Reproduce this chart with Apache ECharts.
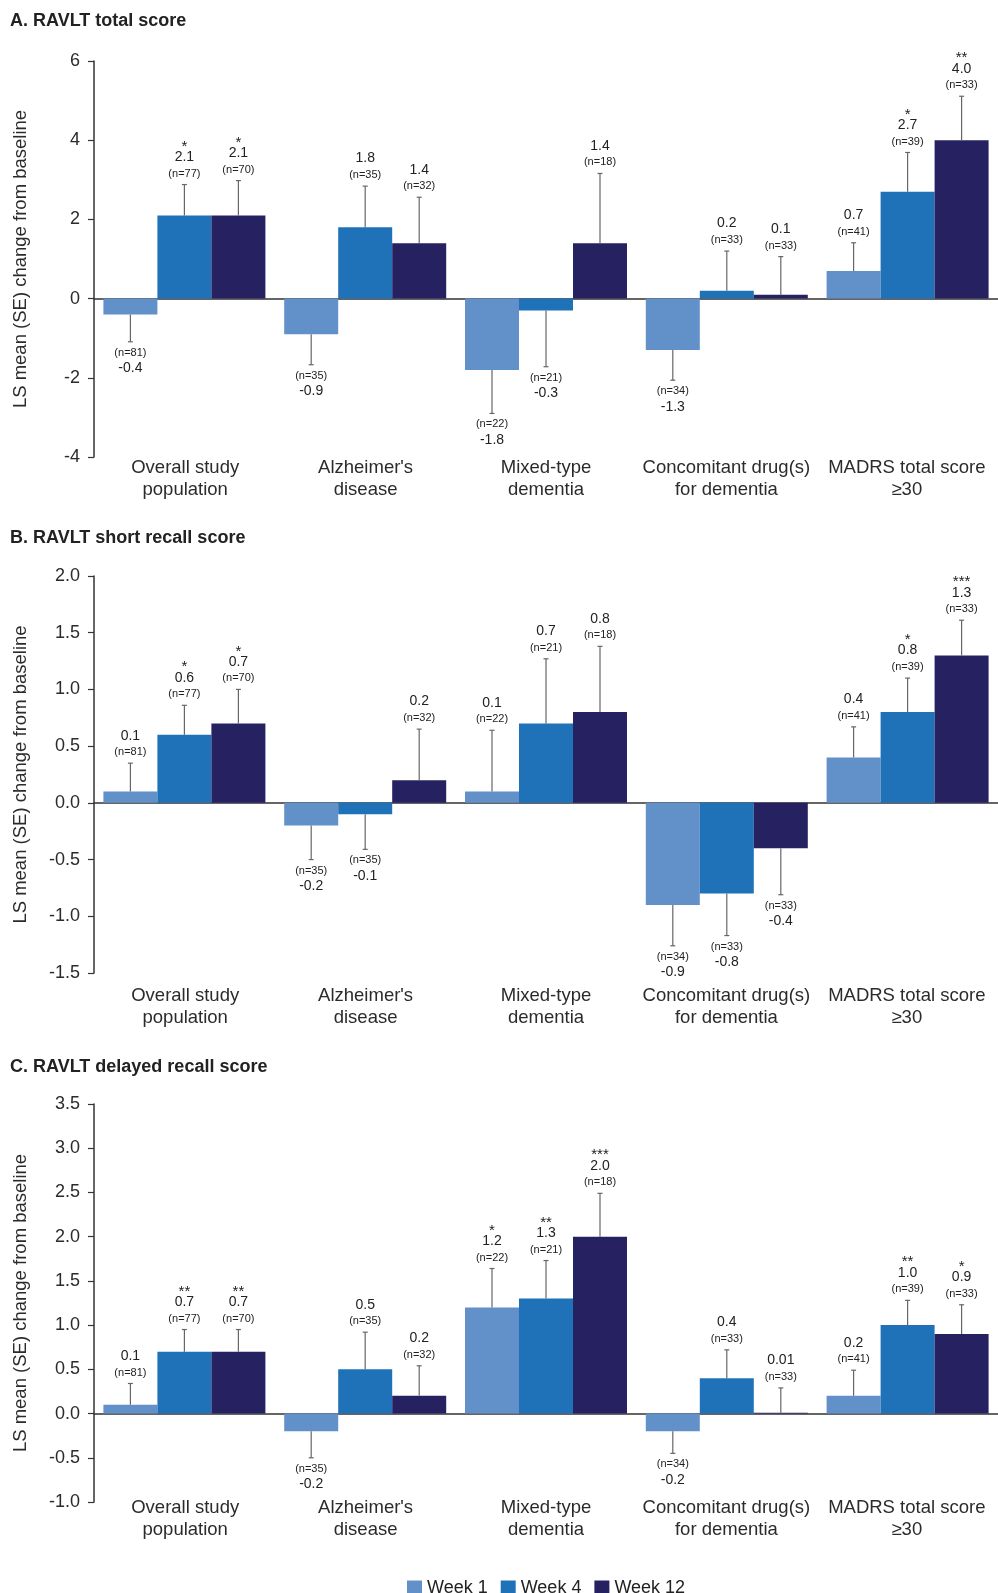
<!DOCTYPE html>
<html>
<head>
<meta charset="utf-8">
<script src="https://cdn.jsdelivr.net/npm/echarts@6/dist/echarts.min.js"></script>
<style>
html,body{margin:0;padding:0;background:#fff;}
#chart{width:998px;height:1593px;}
</style>
</head>
<body>
<div id="chart"></div>
<script>
// ---------- DATA ----------
const categories = ['Overall study\npopulation', "Alzheimer's\ndisease", 'Mixed-type\ndementia', 'Concomitant drug(s)\nfor dementia', 'MADRS total score\n≥30'];
const weeks = ['Week 1', 'Week 4', 'Week 12'];

const nW1 = [81, 35, 22, 34, 41];
const nW4 = [77, 35, 21, 33, 39];
const nW12 = [70, 32, 18, 33, 33];

// A. RAVLT total score
const totalW1 = [-0.4, -0.9, -1.8, -1.3, 0.7];
const totalW4 = [2.1, 1.8, -0.3, 0.2, 2.7];
const totalW12 = [2.1, 1.4, 1.4, 0.1, 4.0];
const totalSeW1 = [0.69, 0.77, 1.10, 0.76, 0.71];
const totalSeW4 = [0.78, 1.04, 1.42, 1.00, 0.99];
const totalSeW12 = [0.88, 1.16, 1.76, 0.96, 1.11];
const totalStarW1 = ['', '', '', '', ''];
const totalStarW4 = ['*', '', '', '', '*'];
const totalStarW12 = ['*', '', '', '', '**'];

// B. RAVLT short recall score
const shortW1 = [0.1, -0.2, 0.1, -0.9, 0.4];
const shortW4 = [0.6, -0.1, 0.7, -0.8, 0.8];
const shortW12 = [0.7, 0.2, 0.8, -0.4, 1.3];
const shortSeW1 = [0.25, 0.30, 0.54, 0.36, 0.27];
const shortSeW4 = [0.26, 0.31, 0.57, 0.37, 0.30];
const shortSeW12 = [0.30, 0.45, 0.58, 0.41, 0.31];
const shortStarW1 = ['', '', '', '', ''];
const shortStarW4 = ['*', '', '', '', '*'];
const shortStarW12 = ['*', '', '', '', '***'];

// C. RAVLT delayed recall score
const delayW1 = [0.1, -0.2, 1.2, -0.2, 0.2];
const delayW4 = [0.7, 0.5, 1.3, 0.4, 1.0];
const delayW12 = [0.7, 0.2, 2.0, 0.01, 0.9];
const delaySeW1 = [0.24, 0.30, 0.44, 0.25, 0.29];
const delaySeW4 = [0.25, 0.42, 0.43, 0.32, 0.28];
const delaySeW12 = [0.25, 0.34, 0.49, 0.28, 0.33];
const delayStarW1 = ['', '', '*', '', ''];
const delayStarW4 = ['**', '', '**', '', '**'];
const delayStarW12 = ['**', '', '***', '', '*'];

const titles = ['A. RAVLT total score', 'B. RAVLT short recall score', 'C. RAVLT delayed recall score'];
const yAxisTitle = 'LS mean (SE) change from baseline';
const yTicks = [
  {min: -4, max: 6, interval: 2, digits: 0},
  {min: -1.5, max: 2.0, interval: 0.5, digits: 1},
  {min: -1.0, max: 3.5, interval: 0.5, digits: 1}
];

// ---------- STYLE / LAYOUT ----------
const FONT = "'Liberation Sans', Arial, Helvetica, sans-serif";
const COLORS = ['#6290c9', '#1f72b8', '#262262'];
const TEXT = '#222';
const BAR_W = 54;
const layout = [
  {top: 61, height: 396, labelTop: 457, titleTop: 12},
  {top: 576, height: 397, labelTop: 985, titleTop: 529},
  {top: 1104, height: 398, labelTop: 1497, titleTop: 1058}
];

const panels = [
  {vals: [totalW1, totalW4, totalW12], se: [totalSeW1, totalSeW4, totalSeW12], stars: [totalStarW1, totalStarW4, totalStarW12]},
  {vals: [shortW1, shortW4, shortW12], se: [shortSeW1, shortSeW4, shortSeW12], stars: [shortStarW1, shortStarW4, shortStarW12]},
  {vals: [delayW1, delayW4, delayW12], se: [delaySeW1, delaySeW4, delaySeW12], stars: [delayStarW1, delayStarW4, delayStarW12]}
];
const nAll = [nW1, nW4, nW12];

function fmtVal(v) {
  return Number.isInteger(Math.round(v * 10 * 1000) / 1000) ? v.toFixed(1) : String(v);
}

const grid = [], xAxis = [], yAxis = [], series = [], title = [];

panels.forEach((p, pi) => {
  const L = layout[pi];
  const yt = yTicks[pi];
  title.push({
    text: titles[pi], left: 10, top: L.titleTop, padding: 0,
    textStyle: {fontFamily: FONT, fontSize: 18, fontWeight: 'bold', color: TEXT}
  });
  grid.push({left: 94, top: L.top, width: 917.5, height: L.height, containLabel: false});
  grid.push({left: 95, top: L.top, width: 902, height: L.labelTop - L.top, containLabel: false});

  xAxis.push({
    type: 'category', gridIndex: 2 * pi, data: categories,
    axisLine: {show: true, onZero: true, lineStyle: {color: '#333', width: 1.5}},
    axisTick: {show: false}, axisLabel: {show: false}, splitLine: {show: false}
  });
  xAxis.push({
    type: 'category', gridIndex: 2 * pi + 1, data: categories, position: 'bottom',
    axisLine: {show: false}, axisTick: {show: false}, splitLine: {show: false},
    axisLabel: {show: true, interval: 0, margin: 0, fontFamily: FONT, fontSize: 18.5, lineHeight: 22, color: '#2b2b2b'}
  });
  yAxis.push({
    type: 'value', gridIndex: 2 * pi, min: yt.min, max: yt.max, interval: yt.interval,
    name: yAxisTitle, nameLocation: 'middle', nameRotate: 90, nameGap: 64,
    nameTextStyle: {fontFamily: FONT, fontSize: 18.5, color: '#2b2b2b'},
    axisLine: {show: true, lineStyle: {color: '#333', width: 1.5}},
    axisTick: {show: true, length: 6, lineStyle: {color: '#333', width: 1.2}},
    axisLabel: {margin: 14, fontFamily: FONT, fontSize: 18, color: '#2b2b2b',
      formatter: v => v.toFixed(yt.digits)},
    splitLine: {show: false}
  });
  yAxis.push({type: 'value', gridIndex: 2 * pi + 1, min: 0, max: 1, show: false});

  p.vals.forEach((vals, k) => {
    series.push({
      name: weeks[k], type: 'bar', xAxisIndex: 2 * pi, yAxisIndex: 2 * pi,
      data: vals, barWidth: BAR_W, barGap: '0%', barMinHeight: 0,
      itemStyle: {color: COLORS[k]}, silent: true, z: 2
    });
  });
  p.vals.forEach((vals, k) => {
    const ses = p.se[k], stars = p.stars[k], ns = nAll[k];
    series.push({
      type: 'custom', xAxisIndex: 2 * pi, yAxisIndex: 2 * pi, z: 5, silent: true, clip: false,
      data: vals.map((v, i) => [i, v, ses[i]]),
      renderItem: function (params, api) {
        const i = api.value(0), v = api.value(1), se = api.value(2);
        const base = api.coord([i, v]);
        const x = base[0] + (k - 1) * BAR_W;
        const pos = v >= 0;
        const end = api.coord([i, pos ? v + se : v - se]);
        const y0 = base[1], y1 = end[1];
        const ls = {stroke: '#666', lineWidth: 1.2};
        const children = [
          {type: 'line', shape: {x1: x, y1: y0, x2: x, y2: y1}, style: ls},
          {type: 'line', shape: {x1: x - 2.5, y1: y1, x2: x + 2.5, y2: y1}, style: ls}
        ];
        const t = (text, yy, size) => ({
          type: 'text', x: x, y: yy,
          style: {text: text, fontFamily: FONT, fontSize: size, fill: TEXT, align: 'center', verticalAlign: 'middle'}
        });
        if (pos) {
          children.push(t('(n=' + ns[i] + ')', y1 - 11, 11));
          children.push(t(fmtVal(v), y1 - 27.5, 14));
          if (stars[i]) children.push(t(stars[i], y1 - 38, 15));
        } else {
          children.push(t('(n=' + ns[i] + ')', y1 + 11, 11));
          children.push(t(fmtVal(v), y1 + 26.5, 14));
        }
        return {type: 'group', children: children};
      }
    });
  });
});

const chart = echarts.init(document.getElementById('chart'), null, {renderer: 'canvas', width: 998, height: 1593});
chart.setOption({
  animation: false,
  backgroundColor: '#fff',
  title: title,
  grid: grid,
  xAxis: xAxis,
  yAxis: yAxis,
  legend: {
    data: weeks, left: 402, top: 1574, icon: 'rect', itemWidth: 15, itemHeight: 15, itemGap: 13,
    textStyle: {fontFamily: FONT, fontSize: 18, color: TEXT}, selectedMode: false
  },
  series: series
});
</script>
</body>
</html>
